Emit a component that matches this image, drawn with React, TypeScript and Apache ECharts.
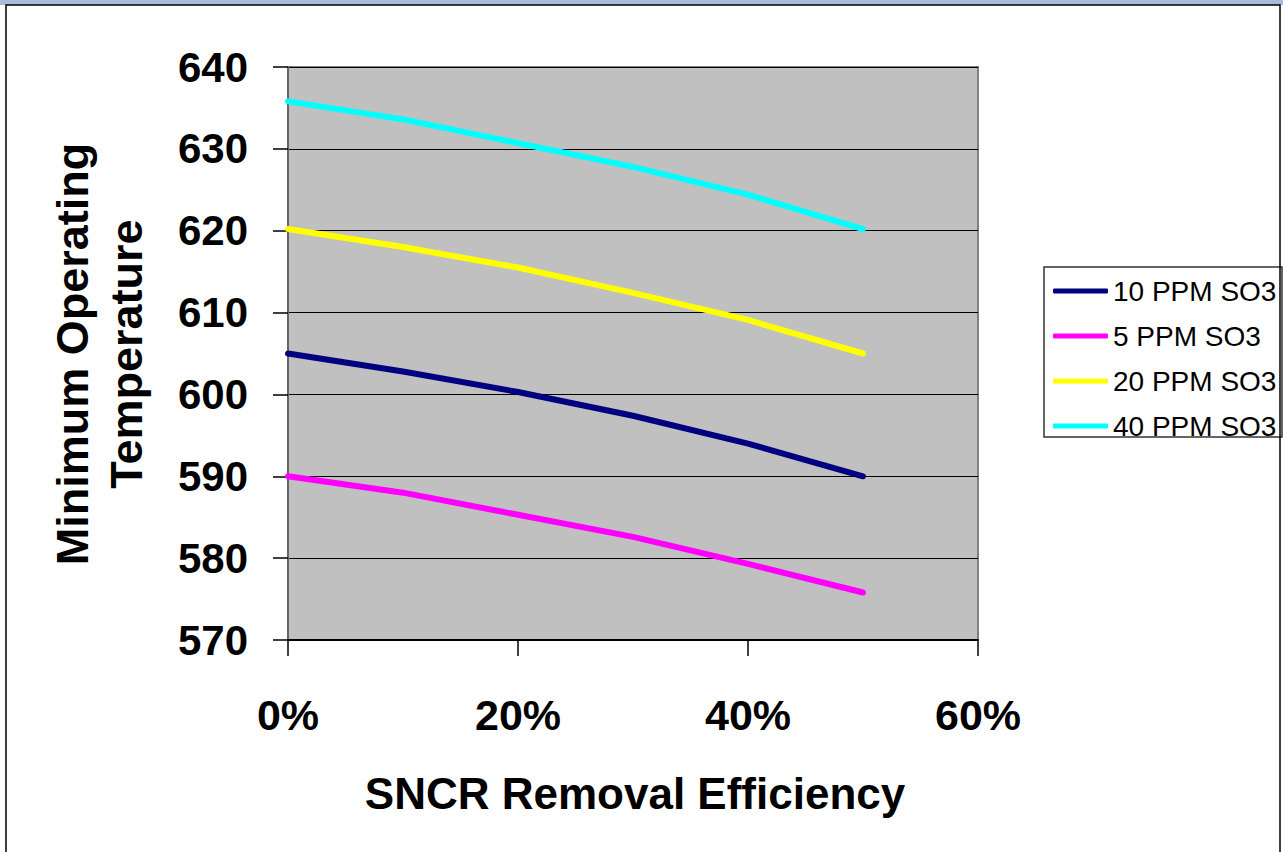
import React, { useEffect, useRef } from "react";
import * as echarts from "echarts";

const efficiency = [0, 10, 20, 30, 40, 50];
const seriesNames = ["10 PPM SO3", "5 PPM SO3", "20 PPM SO3", "40 PPM SO3"];
const ppm10 = [605, 602.8, 600.3, 597.4, 594.0, 590];
const ppm5 = [590, 588, 585.3, 582.6, 579.3, 575.8];
const ppm20 = [620.2, 618, 615.5, 612.4, 609.1, 605];
const ppm40 = [635.8, 633.6, 630.7, 627.8, 624.4, 620.2];
const seriesColors = ["#000080", "#FF00FF", "#FFFF00", "#00FFFF"];
const xTitle = "SNCR Removal Efficiency";
const yTitle = "Minimum Operating\nTemperature";

const FONT = "Liberation Sans, Arial, sans-serif";

export default function App() {
  const ref = useRef<HTMLDivElement>(null);
  useEffect(() => {
    if (!ref.current) return;
    const chart = echarts.init(ref.current, undefined, { renderer: "svg" });
    const values = [ppm10, ppm5, ppm20, ppm40];
    chart.setOption({
      animation: false,
      backgroundColor: "#FFFFFF",
      grid: {
        left: 288,
        right: 305,
        top: 67,
        bottom: 212,
        show: true,
        backgroundColor: "#C0C0C0",
        borderColor: "#808080",
        borderWidth: 2,
      },
      xAxis: {
        type: "value",
        min: 0,
        max: 60,
        interval: 20,
        axisLine: { show: true, onZero: false, lineStyle: { color: "#000", width: 2 } },
        axisTick: { show: true, length: 16, lineStyle: { color: "#000", width: 1.5 } },
        splitLine: { show: false },
        axisLabel: {
          formatter: "{value}%",
          fontFamily: FONT,
          fontWeight: "bold",
          fontSize: 43,
          color: "#000",
          margin: 53,
        },
      },
      yAxis: {
        type: "value",
        min: 570,
        max: 640,
        interval: 10,
        axisLine: { show: true, lineStyle: { color: "#666", width: 2 } },
        axisTick: { show: true, length: 15, lineStyle: { color: "#000", width: 1.5 } },
        splitLine: { show: true, lineStyle: { color: "#000", width: 1.2 } },
        axisLabel: {
          fontFamily: FONT,
          fontWeight: "bold",
          fontSize: 42,
          color: "#000",
          margin: 40,
        },
      },
      legend: {
        orient: "vertical",
        left: 1053,
        top: 277,
        padding: 0,
        itemWidth: 55,
        itemHeight: 5,
        itemGap: 17,
        icon: "roundRect",
        textStyle: { fontFamily: FONT, fontSize: 28, color: "#000", lineHeight: 28 },
        data: seriesNames,
      },
      graphic: [
        { type: "rect", shape: { x: 0, y: 0, width: 1283, height: 5 }, style: { fill: "#A9BBDB" }, silent: true },
        {
          type: "rect",
          shape: { x: 6, y: 5, width: 1274, height: 860 },
          style: { fill: "none", stroke: "#000", lineWidth: 1.5 },
          silent: true,
        },
        {
          type: "rect",
          shape: { x: 1044, y: 267, width: 238, height: 170 },
          style: { fill: "#FFFFFF", stroke: "#333", lineWidth: 1.5 },
          z: -1,
          silent: true,
        },
        {
          type: "text",
          x: 635,
          y: 793,
          style: {
            text: xTitle,
            fontFamily: FONT,
            fontWeight: "bold",
            fontSize: 44,
            fill: "#000",
            align: "center",
            verticalAlign: "middle",
          },
        },
        {
          type: "text",
          x: 99,
          y: 354,
          rotation: Math.PI / 2,
          style: {
            text: yTitle,
            fontFamily: FONT,
            fontWeight: "bold",
            fontSize: 45,
            lineHeight: 54,
            fill: "#000",
            align: "center",
            verticalAlign: "middle",
          },
        },
      ],
      series: seriesNames.map((name, i) => ({
        name,
        type: "line",
        data: efficiency.map((x, j) => [x, values[i][j]]),
        symbol: "none",
        color: seriesColors[i],
        lineStyle: { color: seriesColors[i], width: 6, cap: "round", join: "round" },
      })),
    });
    return () => chart.dispose();
  }, []);
  return (
    <div
      ref={ref}
      style={{ position: "fixed", left: 0, top: 0, width: 1283, height: 852 }}
    />
  );
}
